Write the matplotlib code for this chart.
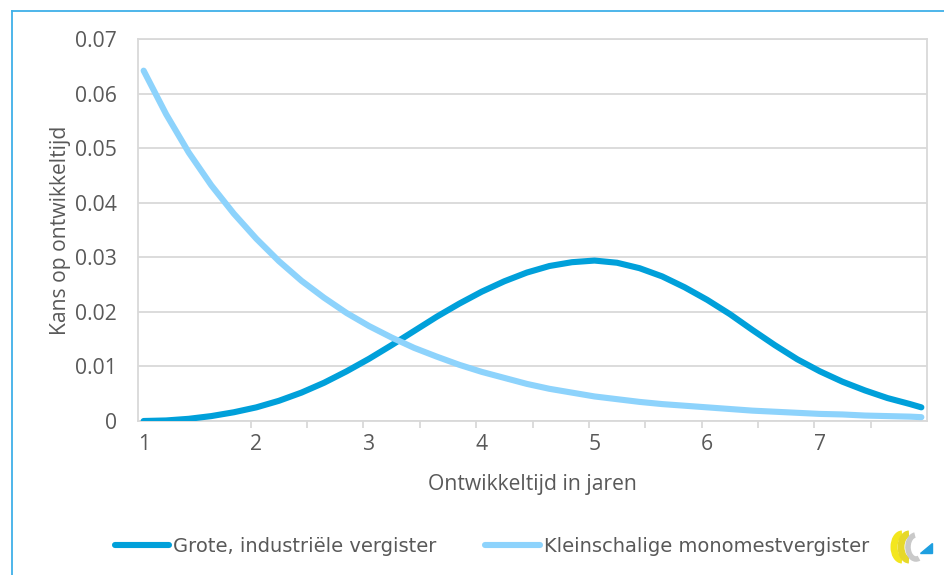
import numpy as np
import matplotlib.pyplot as plt
from matplotlib.lines import Line2D
from matplotlib.patches import Arc, Polygon

# development time in years (sampled every 0.2 year)
jaren = [1.0, 1.2, 1.4, 1.6, 1.8, 2.0, 2.2, 2.4, 2.6, 2.8, 3.0, 3.2, 3.4, 3.6,
         3.8, 4.0, 4.2, 4.4, 4.6, 4.8, 5.0, 5.2, 5.4, 5.6, 5.8, 6.0, 6.2, 6.4,
         6.6, 6.8, 7.0, 7.2, 7.4, 7.6, 7.8, 7.9]

# probability of development time
grote = [0.0000, 0.0001, 0.0004, 0.0009, 0.0016, 0.0025, 0.0037, 0.0052,
         0.0070, 0.0091, 0.0114, 0.0139, 0.0165, 0.0191, 0.0215, 0.0237,
         0.0256, 0.0272, 0.0284, 0.0291, 0.0294, 0.0290, 0.0280, 0.0265,
         0.0245, 0.0222, 0.0196, 0.0167, 0.0139, 0.0113, 0.0091, 0.0072,
         0.0056, 0.0042, 0.0031, 0.0025]
klein = [0.0642, 0.0562, 0.0492, 0.0432, 0.0380, 0.0334, 0.0293, 0.0257,
         0.0226, 0.0198, 0.0174, 0.0153, 0.0134, 0.0118, 0.0103, 0.0090,
         0.0079, 0.0068, 0.0059, 0.0052, 0.0045, 0.0040, 0.0035, 0.0031,
         0.0028, 0.0025, 0.0022, 0.0019, 0.0017, 0.0015, 0.0013, 0.0012,
         0.0010, 0.0009, 0.0008, 0.0007]

labels = ['Grote, industriële vergister', 'Kleinschalige monomestvergister']
x_ticks = [1, 2, 3, 4, 5, 6, 7]
y_ticks = [0, 0.01, 0.02, 0.03, 0.04, 0.05, 0.06, 0.07]
y_ticklabels = ['0', '0.01', '0.02', '0.03', '0.04', '0.05', '0.06', '0.07']

dark = '#00A0DA'
light = '#8DD3FC'
grid = '#D9D9D9'
text = '#595959'

W, H = 944, 575
fig = plt.figure(figsize=(W / 100, H / 100), dpi=100)
ax = fig.add_axes([138 / W, 1 - 421 / H, (927 - 138) / W, (421 - 39) / H])

ax.plot(jaren, grote, color=dark, lw=4.4, solid_capstyle='round',
        solid_joinstyle='round', zorder=3)
ax.plot(jaren, klein, color=light, lw=4.4, solid_capstyle='round',
        solid_joinstyle='round', zorder=3)

ax.set_xlim(0.95, 7.95)
ax.set_ylim(0, 0.07)
ax.set_yticks(y_ticks)
ax.set_yticklabels(y_ticklabels)
ax.set_xticks(x_ticks)
ax.set_xticks(np.arange(1.95, 7.5, 0.5), minor=True)
ax.grid(axis='y', color=grid, lw=1.3, zorder=0)
for s in ax.spines.values():
    s.set_color(grid)
    s.set_linewidth(1.3)

tick_font = dict(family='Open Sans', size=15.2)
ax.tick_params(axis='y', length=0, pad=15, labelcolor=text)
ax.tick_params(axis='x', which='major', length=0, pad=9, labelcolor=text)
ax.tick_params(axis='x', which='minor', length=5, width=1.3, color=grid)
for lab in ax.get_xticklabels() + ax.get_yticklabels():
    lab.set_fontfamily('Open Sans')
    lab.set_fontsize(15.2)

ax.set_xlabel('Ontwikkeltijd in jaren', color=text, labelpad=14, **tick_font)
ax.set_ylabel('Kans op ontwikkeltijd', color=text, labelpad=3, **tick_font)

handles = [Line2D([], [], color=dark, lw=4.4, solid_capstyle='round'),
           Line2D([], [], color=light, lw=4.4, solid_capstyle='round')]
leg = fig.legend(handles, labels, loc='center', ncol=2, frameon=False,
                 bbox_to_anchor=(492 / W, 1 - 546 / H), handlelength=2.8,
                 handletextpad=0.2, columnspacing=2.5,
                 prop=dict(family='DejaVu Sans', size=14))
for t in leg.get_texts():
    t.set_color(text)

# outer frame (left and top edge)
fig.add_artist(Line2D([11.5 / W, 11.5 / W], [0, 1 - 11 / H], color='#3FB0E8', lw=1.3))
fig.add_artist(Line2D([11.5 / W, 1], [1 - 11 / H, 1 - 11 / H], color='#3FB0E8', lw=1.3))

# small logo in the lower right corner
lax = fig.add_axes([890 / W, 1 - 563 / H, 44 / W, 32 / H])
lax.set_xlim(0, 44)
lax.set_ylim(0, 32)
lax.axis('off')
lax.add_patch(Arc((12, 16), 16, 26, theta1=90, theta2=270, color='#F3E61E', lw=5, clip_on=False))
lax.add_patch(Arc((19, 16), 16, 26, theta1=90, theta2=270, color='#E6D82A', lw=5, clip_on=False))
lax.add_patch(Arc((26, 16), 16, 24, theta1=95, theta2=285, color='#C9C9C9', lw=4, clip_on=False))
lax.add_patch(Polygon([[30, 10], [42, 10], [42, 20]], closed=True, color='#1E9FE0'))

fig.savefig('out.png', dpi=100)
